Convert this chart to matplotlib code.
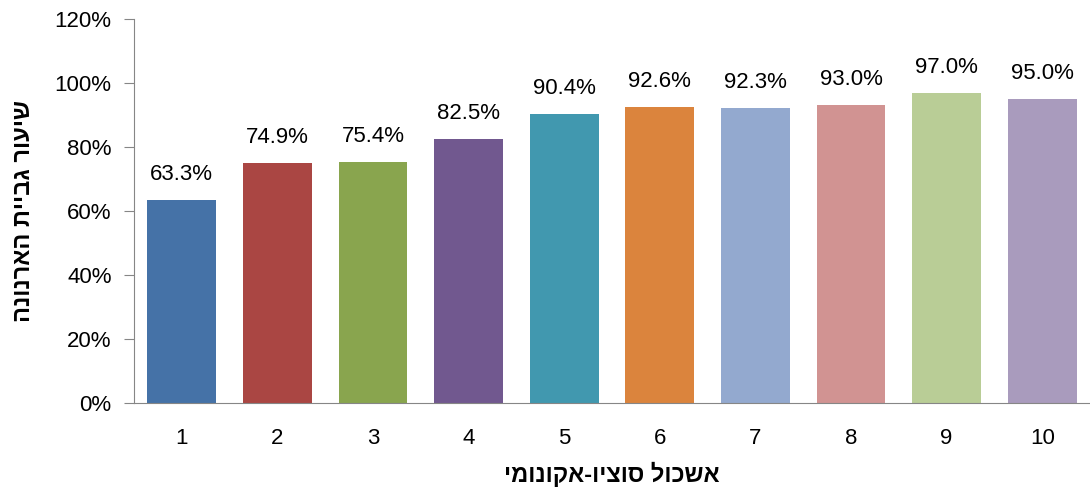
import matplotlib
matplotlib.use("Agg")
import matplotlib.pyplot as plt
from matplotlib.ticker import FuncFormatter

plt.rcParams['font.family'] = ['Liberation Sans', 'DejaVu Sans']

# Collection rate by socio-economic cluster
clusters = [1, 2, 3, 4, 5, 6, 7, 8, 9, 10]
rates = [63.3, 74.9, 75.4, 82.5, 90.4, 92.6, 92.3, 93.0, 97.0, 95.0]
colors = ['#4572A7', '#AA4643', '#89A54E', '#71588F', '#4198AF',
          '#DB843D', '#93A9CF', '#D19392', '#B9CD96', '#A99BBD']

# Hebrew labels, reversed for left-to-right rendering
xlabel = "אשכול סוציו-אקונומי"[::-1]
ylabel = "שיעור גביית הארנונה"[::-1]

fig = plt.figure(figsize=(10.9, 4.9), dpi=100)
ax = fig.add_axes([0.1229, 0.1776, 0.8771, 0.7836])

bars = ax.bar(clusters, rates, width=0.72, color=colors)
for x, v in zip(clusters, rates):
    ax.text(x, v + 4.7, f"{v:.1f}%", ha='center', va='bottom', fontsize=16)

ax.set_xlim(0.5, 10.5)
ax.set_ylim(0, 120)
ax.set_yticks(range(0, 121, 20))
ax.yaxis.set_major_formatter(FuncFormatter(lambda y, _: f"{y:.0f}%"))
ax.set_xticks(clusters)

for side in ['top', 'right']:
    ax.spines[side].set_visible(False)
for side in ['left', 'bottom']:
    ax.spines[side].set_color('#868686')
ax.tick_params(axis='y', colors='#868686', labelcolor='black', labelsize=16,
               length=7, direction='out', pad=9)
ax.tick_params(axis='x', length=0, labelsize=16, pad=18)

ax.set_xlabel(xlabel, fontsize=17, fontweight='bold', labelpad=9)
ax.set_ylabel(ylabel, fontsize=17, fontweight='bold', labelpad=14)

fig.savefig("out.png", dpi=100)
